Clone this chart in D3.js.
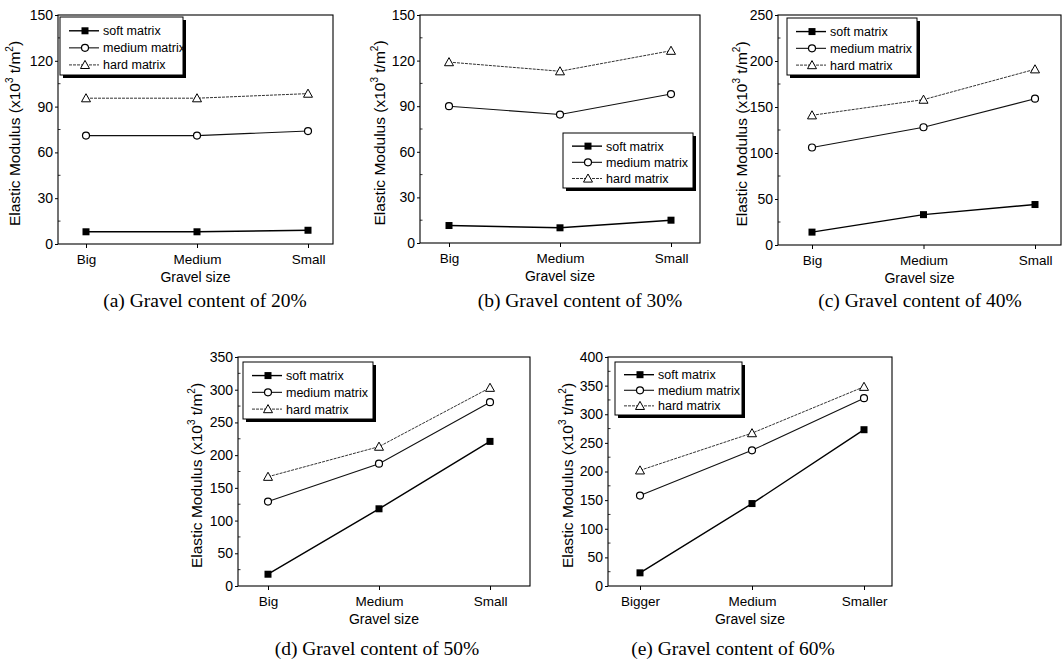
<!DOCTYPE html>
<html>
<head>
<meta charset="utf-8">
<script src="https://cdn.jsdelivr.net/npm/d3@7"></script>
<style>
  html, body { margin: 0; padding: 0; background: #fff; }
  svg { display: block; }
</style>
</head>
<body>
<svg id="chart" width="1063" height="660"></svg>
<script>
// ---------- data ----------
const categories = ["Big", "Medium", "Small"];
const categories60 = ["Bigger", "Medium", "Smaller"];
const seriesNames = ["soft matrix", "medium matrix", "hard matrix"];
const captions = [
  "(a) Gravel content of 20%",
  "(b) Gravel content of 30%",
  "(c) Gravel content of 40%",
  "(d) Gravel content of 50%",
  "(e) Gravel content of 60%"
];
const yMaxes = [150, 150, 250, 350, 400];
const yTickSteps = [30, 30, 50, 50, 50];

const soft20 = [8, 8, 9];
const medium20 = [71, 71, 74];
const hard20 = [95.5, 95.5, 98.5];

const soft30 = [11.5, 10, 15];
const medium30 = [90, 84.5, 98];
const hard30 = [119, 113, 126.5];

const soft40 = [14, 33, 44];
const medium40 = [106, 128, 159];
const hard40 = [141, 158, 191];

const soft50 = [18, 118, 221];
const medium50 = [129, 187, 281];
const hard50 = [167, 213, 303];

const soft60 = [23, 144, 273];
const medium60 = [158, 237, 328];
const hard60 = [202, 267, 348];

// ---------- layout ----------
const panels = [
  { cats: categories, series: [soft20, medium20, hard20],
    box: {l: 58, r: 333, t: 15, b: 244}, xr: [86, 308], titleX: 16,
    legend: {x: 60, y: 17, w: 123, h: 58}, capX: 205, capY: 307 },
  { cats: categories, series: [soft30, medium30, hard30],
    box: {l: 420, r: 700, t: 15, b: 243}, xr: [449, 671], titleX: 381,
    legend: {x: 563, y: 133, w: 130, h: 55}, capX: 580, capY: 307 },
  { cats: categories, series: [soft40, medium40, hard40],
    box: {l: 778, r: 1061, t: 15, b: 245}, xr: [812, 1035], titleX: 743,
    legend: {x: 787, y: 18, w: 130, h: 57}, capX: 920, capY: 307 },
  { cats: categories, series: [soft50, medium50, hard50],
    box: {l: 238, r: 530, t: 357, b: 586}, xr: [268, 490], titleX: 198,
    legend: {x: 243, y: 362, w: 130, h: 57}, capX: 377, capY: 655 },
  { cats: categories60, series: [soft60, medium60, hard60],
    box: {l: 608, r: 892, t: 357, b: 586}, xr: [640, 864], titleX: 569,
    legend: {x: 615, y: 362, w: 127, h: 53}, capX: 733, capY: 655 }
];

const styles = [
  { stroke: "#000", width: 1.4, dash: null, marker: "square" },
  { stroke: "#111", width: 1.1, dash: null, marker: "circle" },
  { stroke: "#333", width: 1.0, dash: "3,1", marker: "triangle" }
];

const svg = d3.select("#chart");
const sans = "'Liberation Sans', Arial, sans-serif";

function drawMarker(g, type, x, y) {
  if (type === "square") {
    g.append("rect").attr("x", x - 3.5).attr("y", y - 3.5)
      .attr("width", 7).attr("height", 7).attr("fill", "#000");
  } else if (type === "circle") {
    g.append("circle").attr("cx", x).attr("cy", y).attr("r", 3.5)
      .attr("fill", "#fff").attr("stroke", "#000").attr("stroke-width", 1.2);
  } else {
    const s = 4.5;
    g.append("path")
      .attr("d", `M${x},${y - s} L${x + s},${y + s * 0.8} L${x - s},${y + s * 0.8} Z`)
      .attr("fill", "#fff").attr("stroke", "#000").attr("stroke-width", 1);
  }
}

panels.forEach((p, i) => {
  const g = svg.append("g");
  const x = d3.scalePoint().domain(p.cats).range(p.xr);
  const y = d3.scaleLinear().domain([0, yMaxes[i]]).range([p.box.b, p.box.t]);
  const step = yTickSteps[i];
  const majors = d3.range(0, yMaxes[i] + 0.001, step);
  const minors = d3.range(step / 2, yMaxes[i], step);

  // frame
  g.append("rect").attr("x", p.box.l).attr("y", p.box.t)
    .attr("width", p.box.r - p.box.l).attr("height", p.box.b - p.box.t)
    .attr("fill", "none").attr("stroke", "#000").attr("stroke-width", 1.1);

  // y axis
  const yAxis = d3.axisLeft(y).tickValues(majors).tickSize(3).tickPadding(2)
    .tickFormat(d3.format("d"));
  const ya = g.append("g").attr("transform", `translate(${p.box.l},0)`).call(yAxis);
  ya.select(".domain").remove();
  ya.selectAll("text").attr("font-size", 14).attr("font-family", sans).attr("fill", "#000");
  // minor ticks (inside)
  g.selectAll(null).data(minors).enter().append("line")
    .attr("x1", p.box.l).attr("x2", p.box.l + 2.5)
    .attr("y1", d => y(d)).attr("y2", d => y(d))
    .attr("stroke", "#000").attr("stroke-width", 0.8);

  // x axis
  const xAxis = d3.axisBottom(x).tickSize(4).tickPadding(6);
  const xa = g.append("g").attr("transform", `translate(0,${p.box.b})`).call(xAxis);
  xa.select(".domain").remove();
  xa.selectAll("text").attr("font-size", 13.5).attr("font-family", sans).attr("fill", "#000");

  // axis titles
  g.append("text").attr("x", (p.box.l + p.box.r) / 2).attr("y", p.box.b + 38)
    .attr("text-anchor", "middle").attr("font-family", sans).attr("font-size", 14)
    .text("Gravel size");
  const yt = g.append("text")
    .attr("transform", `translate(${p.titleX},${(p.box.t + p.box.b) / 2 + 4}) rotate(-90)`)
    .attr("text-anchor", "middle").attr("font-family", sans).attr("font-size", 15.5)
    .attr("dominant-baseline", "middle");
  yt.append("tspan").text("Elastic Modulus (x10");
  yt.append("tspan").attr("font-size", 10).attr("dy", -6).text("3");
  yt.append("tspan").attr("dy", 6).text(" t/m");
  yt.append("tspan").attr("font-size", 10).attr("dy", -6).text("2");
  yt.append("tspan").attr("dy", 6).text(")");

  // series
  p.series.forEach((vals, k) => {
    const st = styles[k];
    const line = d3.line().x((d, j) => x(p.cats[j])).y(d => y(d));
    g.append("path").datum(vals).attr("d", line)
      .attr("fill", "none").attr("stroke", st.stroke)
      .attr("stroke-width", st.width)
      .attr("stroke-dasharray", st.dash);
    vals.forEach((v, j) => drawMarker(g, st.marker, x(p.cats[j]), y(v)));
  });

  // legend
  const L = p.legend;
  g.append("rect").attr("x", L.x + 3).attr("y", L.y + 3).attr("width", L.w).attr("height", L.h)
    .attr("fill", "#000");
  g.append("rect").attr("x", L.x).attr("y", L.y).attr("width", L.w).attr("height", L.h)
    .attr("fill", "#fff").attr("stroke", "#000").attr("stroke-width", 1);
  const rowH = L.h / 3.4;
  seriesNames.forEach((name, k) => {
    const st = styles[k];
    const cy = L.y + rowH * (0.75 + k * 1.0) + 1;
    g.append("line").attr("x1", L.x + 9).attr("x2", L.x + 39)
      .attr("y1", cy).attr("y2", cy)
      .attr("stroke", st.stroke).attr("stroke-width", st.width)
      .attr("stroke-dasharray", st.dash);
    drawMarker(g, st.marker, L.x + 25, cy);
    g.append("text").attr("x", L.x + 43).attr("y", cy + 4.5)
      .attr("font-family", sans).attr("font-size", 12.5).text(name);
  });

  // caption
  svg.append("text").attr("x", p.capX).attr("y", p.capY)
    .attr("text-anchor", "middle")
    .attr("font-family", "'Liberation Serif', 'Times New Roman', serif")
    .attr("font-size", 19.5).text(captions[i]);
});
</script>
</body>
</html>
